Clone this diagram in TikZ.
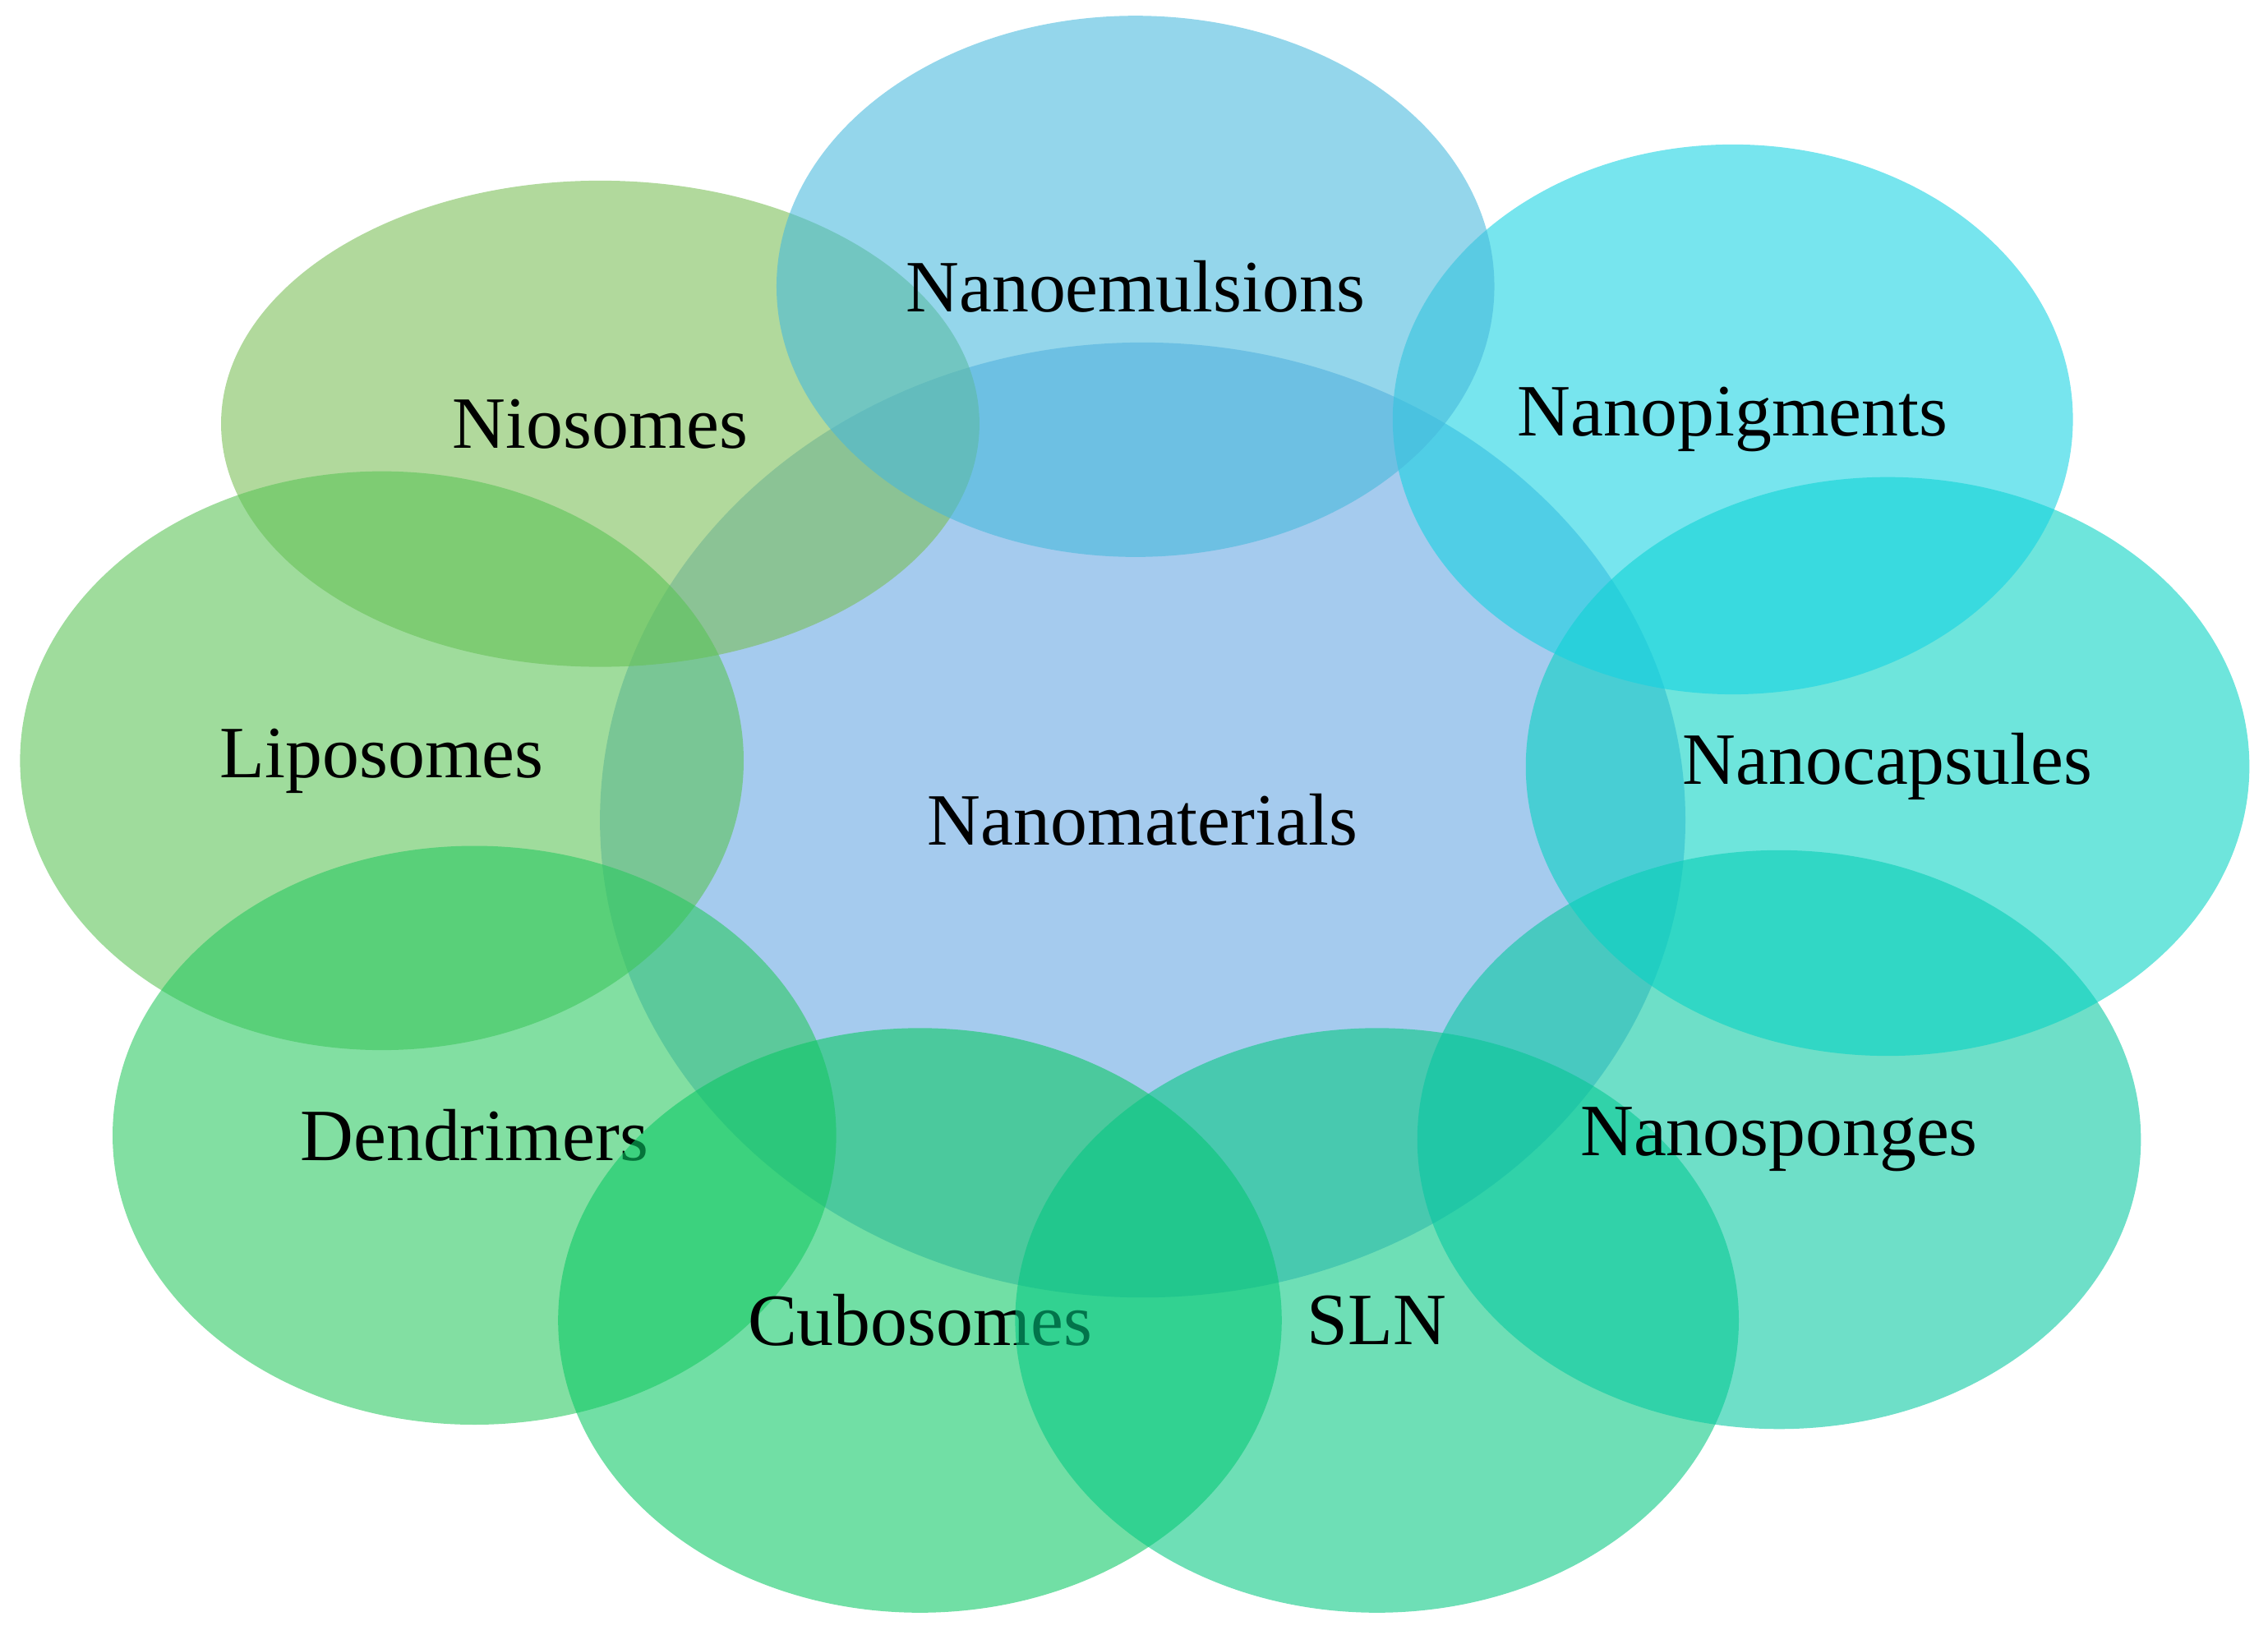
\documentclass[tikz,border=0pt]{standalone}
\usepackage{fontspec}
\setmainfont{Liberation Serif}
\usetikzlibrary{shapes.geometric}
\definecolor{cblue}{RGB}{100,165,225}
\definecolor{cnio}{RGB}{120,190,85}
\definecolor{clipo}{RGB}{90,195,85}
\definecolor{cdend}{RGB}{40,200,95}
\definecolor{ccubo}{RGB}{10,200,100}
\definecolor{csln}{RGB}{5,200,130}
\definecolor{csponge}{RGB}{5,200,160}
\definecolor{ccaps}{RGB}{5,210,195}
\definecolor{cpig}{RGB}{20,210,225}
\definecolor{cemul}{RGB}{70,185,220}
\tikzset{
  blob/.style={ellipse, draw=none, fill=#1, fill opacity=0.58, text opacity=1,
    font=\fontsize{14.5}{17}\selectfont, inner sep=0pt},
}
\begin{document}
\begin{tikzpicture}[x=0.01cm,y=-0.01cm]
\useasboundingbox (0,0) rectangle (1568,1130);
% centre
\node[blob=cblue, minimum width=7.5cm, minimum height=6.6cm] (nano) at (790,567) {Nanomaterials};
% ring
\node[blob=cnio, minimum width=5.24cm, minimum height=3.36cm] (nio) at (415,293) {Niosomes};
\node[blob=clipo, minimum width=5cm, minimum height=4cm] (lipo) at (264,526) {Liposomes};
\node[blob=cdend, minimum width=5cm, minimum height=4cm] (dend) at (328,785) {Dendrimers};
\node[blob=ccubo, minimum width=5cm, minimum height=4.04cm] (cubo) at (636,913) {Cubosomes};
\node[blob=csln, minimum width=5cm, minimum height=4.04cm] (sln) at (952,913) {SLN};
\node[blob=csponge, minimum width=5cm, minimum height=4cm] (sponge) at (1230,788) {Nanosponges};
\node[blob=ccaps, minimum width=5cm, minimum height=4cm] (caps) at (1305,530) {Nanocapsules};
\node[blob=cpig, minimum width=4.7cm, minimum height=3.8cm] (pig) at (1198,290) {Nanopigments};
\node[blob=cemul, minimum width=4.96cm, minimum height=3.74cm] (emul) at (785,198) {Nanoemulsions};
\end{tikzpicture}
\end{document}
